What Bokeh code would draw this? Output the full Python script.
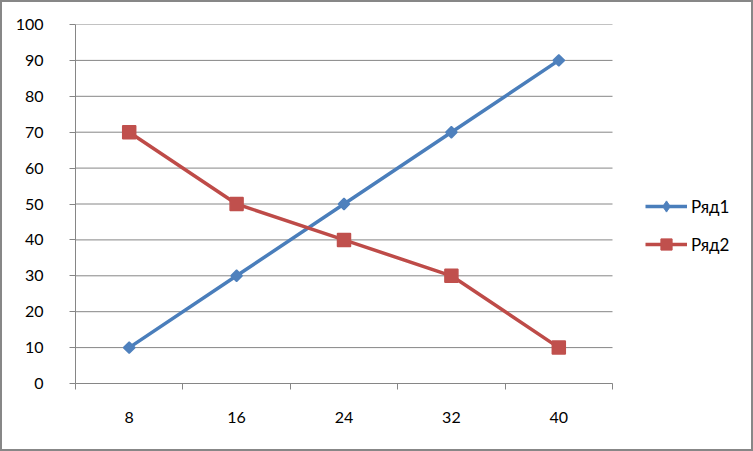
import math
from bokeh.plotting import figure
from bokeh.models import FixedTicker, Legend, LegendItem
from bokeh.embed import file_html
from bokeh.resources import INLINE

categories = ["8", "16", "24", "32", "40"]
series1 = [10, 30, 50, 70, 90]
series2 = [70, 50, 40, 30, 10]
name1 = "Ряд1"
name2 = "Ряд2"
y_ticks = list(range(0, 101, 10))

n = len(categories)
xs = [i + 0.5 for i in range(n)]

FONT = "Lato"
GRAY = "#868686"
BLUE_L, BLUE_M = "#4A7EBB", "#4F81BD"
RED_L, RED_M = "#BE4B48", "#C0504D"

# layout (pixels): plot area of the categories is 537 px wide; the frame
# extends further right to hold the legend
LEFT, TOP, BOTTOM, RIGHT = 73, 22, 70, 8
W, H = 753, 451
cat_px = 537
frame_px = W - LEFT - RIGHT
x_end = n * frame_px / cat_px

p = figure(width=W, height=H, output_backend="svg", toolbar_location=None,
           x_range=(0, x_end), y_range=(0, 100), title=None,
           min_border_left=LEFT, min_border_right=RIGHT, min_border_top=TOP,
           min_border_bottom=BOTTOM)
p.styles = {"border": "2px solid #878787", "box-sizing": "border-box"}
p.outline_line_color = None
p.background_fill_color = "white"
p.border_fill_color = "white"

# axes
p.xaxis.bounds = (0, n)
p.xaxis.ticker = FixedTicker(ticks=xs, minor_ticks=list(range(n + 1)))
p.xaxis.major_label_overrides = {x: c for x, c in zip(xs, categories)}
p.xaxis.major_tick_out = 0
p.xaxis.major_tick_in = 0
p.xaxis.minor_tick_out = 6
p.xaxis.minor_tick_in = 0
p.xaxis.minor_tick_line_color = GRAY
p.xaxis.axis_line_color = GRAY
p.xaxis.major_label_standoff = 22

p.yaxis.ticker = FixedTicker(ticks=y_ticks, minor_ticks=[])
p.yaxis.major_tick_out = 6
p.yaxis.major_tick_in = 0
p.yaxis.major_tick_line_color = GRAY
p.yaxis.axis_line_color = GRAY
p.yaxis.major_label_standoff = 26

for ax in (p.xaxis, p.yaxis):
    ax.major_label_text_font = FONT
    ax.major_label_text_font_size = "16px"
    ax.major_label_text_color = "#000000"

# horizontal gridlines limited to the category area
p.xgrid.grid_line_color = None
p.ygrid.grid_line_color = None
p.segment(x0=[0] * len(y_ticks), x1=[n] * len(y_ticks), y0=y_ticks, y1=y_ticks,
          line_color=GRAY, line_width=1)

l1 = p.line(xs, series1, line_color=BLUE_L, line_width=3.5)
m1 = p.scatter(xs, series1, marker="square", angle=math.pi / 4, size=8,
               fill_color=BLUE_M, line_color=BLUE_M, line_width=1.5)
l2 = p.line(xs, series2, line_color=RED_L, line_width=3.5)
m2 = p.scatter(xs, series2, marker="square", size=13, fill_color=RED_M,
               line_color=RED_M, line_width=1.5)

# legend-only marker renderers (one undrawn NaN row so the legend shows them)
nan = float("nan")
lg1 = p.scatter(x=xs[:1], y=[nan], marker="diamond", fill_color=BLUE_M,
                line_color=BLUE_M)
lg2 = p.scatter(x=xs[:1], y=[nan], marker="square", fill_color=RED_M,
                line_color=RED_M)

legend = Legend(items=[LegendItem(label=name1, renderers=[l1, lg1]),
                       LegendItem(label=name2, renderers=[l2, lg2])],
                location=(570, 125), orientation="vertical")
legend.glyph_width = 42
legend.glyph_height = 28
legend.label_standoff = 4
legend.label_height = 20
legend.spacing = 10
legend.padding = 0
legend.margin = 0
legend.border_line_color = None
legend.background_fill_alpha = 0
legend.label_text_font = FONT
legend.label_text_font_size = "17px"
legend.label_text_color = "#000000"
p.add_layout(legend, "center")

open("out.html", "w").write(file_html(p, INLINE))
